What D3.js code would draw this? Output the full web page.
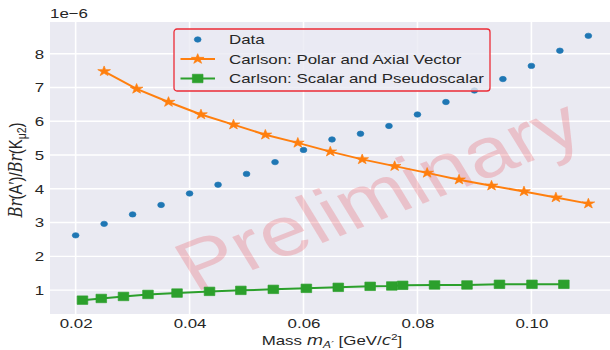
<!DOCTYPE html>
<html>
<head>
<meta charset="utf-8">
<script src="https://cdn.jsdelivr.net/npm/d3@7"></script>
<style>
  body { margin: 0; background: #fff; }
  svg { display: block; }
  text { font-family: "Liberation Sans", Arial, sans-serif; fill: #262626; }
</style>
</head>
<body>
<div id="chart"></div>
<script>
// measured ratio Br(A')/Br(K_mu2), units of 1e-6
var dataMass = [0.02, 0.025, 0.03, 0.035, 0.04, 0.045, 0.05, 0.055, 0.06, 0.065,
                0.07, 0.075, 0.08, 0.085, 0.09, 0.095, 0.10, 0.105, 0.11];
var dataRatio = [2.62, 2.96, 3.24, 3.52, 3.86, 4.12, 4.44, 4.79, 5.15, 5.46,
                 5.63, 5.86, 6.20, 6.57, 6.91, 7.25, 7.64, 8.09, 8.53];

// Carlson: polar and axial vector
var vectorMass = [0.025, 0.0307, 0.0363, 0.042, 0.0477, 0.0533, 0.059, 0.0647,
                  0.0703, 0.076, 0.0817, 0.0873, 0.093, 0.0987, 0.1043, 0.11];
var vectorRatio = [7.48, 6.96, 6.57, 6.20, 5.90, 5.60, 5.36, 5.10,
                   4.87, 4.67, 4.47, 4.27, 4.09, 3.92, 3.74, 3.56];

// Carlson: scalar and pseudoscalar
var scalarMass = [0.0212, 0.0245, 0.0284, 0.0327, 0.0378, 0.0435, 0.049, 0.0547, 0.0605,
                  0.0661, 0.0717, 0.0755, 0.0774, 0.083, 0.0887, 0.0944, 0.1001, 0.1057];
var scalarRatio = [0.70, 0.75, 0.81, 0.87, 0.91, 0.96, 0.99, 1.02, 1.05,
                   1.08, 1.11, 1.12, 1.14, 1.15, 1.15, 1.17, 1.17, 1.17];

var xTicks = [0.02, 0.04, 0.06, 0.08, 0.10];
var yTicks = [1, 2, 3, 4, 5, 6, 7, 8];
var legendLabels = ["Data", "Carlson: Polar and Axial Vector", "Carlson: Scalar and Pseudoscalar"];

var width = 610;
var height = 350;
// plot box (right edge runs past the svg and gets cut)
var pLeft = 50, pRight = 614, pTop = 22, pBottom = 314;
var sx = 1.25; // the figure is drawn a bit wider than tall
var fontSize = 13.5;

var blue = "#1f77b4", orange = "#ff7f0e", green = "#2ca02c";

var x = d3.scaleLinear().domain([0.0155, 0.1145]).range([pLeft, pRight]);
var y = d3.scaleLinear().domain([0.29, 8.94]).range([pBottom, pTop]);

var svg = d3.select("#chart")
    .append("svg")
    .attr("width", width)
    .attr("height", height);

// axes background
svg.append("rect")
    .attr("x", pLeft)
    .attr("y", pTop)
    .attr("width", pRight - pLeft)
    .attr("height", pBottom - pTop)
    .attr("fill", "#eaeaf2");

// grid
svg.append("g")
    .selectAll("line")
    .data(xTicks)
    .enter()
        .append("line")
        .attr("x1", function(d){ return x(d); })
        .attr("x2", function(d){ return x(d); })
        .attr("y1", pTop)
        .attr("y2", pBottom)
        .attr("stroke", "#fff")
        .attr("stroke-width", 1.6);

svg.append("g")
    .selectAll("line")
    .data(yTicks)
    .enter()
        .append("line")
        .attr("x1", pLeft)
        .attr("x2", pRight)
        .attr("y1", function(d){ return y(d); })
        .attr("y2", function(d){ return y(d); })
        .attr("stroke", "#fff")
        .attr("stroke-width", 1.3);

// watermark
svg.append("text")
    .attr("transform", "translate(378,194) scale(" + sx + ",1) rotate(-26)")
    .attr("text-anchor", "middle")
    .attr("dy", "0.35em")
    .style("font-size", "70px")
    .style("fill", "#e8303a")
    .style("fill-opacity", 0.22)
    .text("Preliminary");

// tick labels
var xAxis = svg.append("g")
    .attr("transform", "translate(0," + pBottom + ")")
    .call(d3.axisBottom(x).tickValues(xTicks).tickFormat(d3.format(".2f")).tickSize(0).tickPadding(4.4));
var yAxis = svg.append("g")
    .attr("transform", "translate(" + pLeft + ",0)")
    .call(d3.axisLeft(y).tickValues(yTicks).tickFormat(d3.format("d")).tickSize(0).tickPadding(4.8));

[xAxis, yAxis].forEach(function(ax){
    ax.select(".domain").remove();
    ax.selectAll("text")
        .attr("transform", "scale(" + sx + ",1)")
        .style("font-size", fontSize + "px")
        .style("fill", "#262626");
});

// offset text
svg.append("text")
    .attr("transform", "translate(" + pLeft + ",18) scale(" + sx + ",1)")
    .style("font-size", fontSize + "px")
    .text("1e\u22126");

// axis titles
var xTitle = svg.append("text")
    .attr("transform", "translate(" + ((pLeft + pRight) / 2) + ",345) scale(" + sx + ",1)")
    .attr("text-anchor", "middle")
    .style("font-size", fontSize + "px");
xTitle.append("tspan").text("Mass ");
xTitle.append("tspan").style("font-style", "italic").style("font-family", "DejaVu Sans").text("m");
xTitle.append("tspan").style("font-style", "italic").style("font-family", "DejaVu Sans")
    .style("font-size", "9.5px").attr("dy", 3).text("A\u2032");
xTitle.append("tspan").attr("dy", -3).text(" [GeV/");
xTitle.append("tspan").style("font-style", "italic").style("font-family", "DejaVu Sans").text("c");
xTitle.append("tspan").style("font-size", "9.5px").attr("dy", -5).text("2");
xTitle.append("tspan").attr("dy", 5).text("]");

var yTitle = svg.append("text")
    .attr("transform", "translate(22," + ((pTop + pBottom) / 2 + 2) + ") scale(" + sx + ",1) rotate(-90)")
    .attr("text-anchor", "middle")
    .style("font-size", "15px");
yTitle.append("tspan").style("font-style", "italic").style("font-family", "DejaVu Serif").text("Br");
yTitle.append("tspan").text("(A\u2032)/");
yTitle.append("tspan").style("font-style", "italic").style("font-family", "DejaVu Serif").text("Br");
yTitle.append("tspan").text("(K");
yTitle.append("tspan").style("font-size", "10.5px").attr("dy", 3).text("\u03bc2");
yTitle.append("tspan").attr("dy", -3).text(")");

// marker shapes
var star = d3.symbol().type(d3.symbolStar).size(32);
var square = d3.symbol().type(d3.symbolSquare).size(72);
var dot = d3.symbol().type(d3.symbolCircle).size(23);

function zip(xs, ys){
    return xs.map(function(d, i){ return [d, ys[i]]; });
}

var line = d3.line()
    .x(function(d){ return x(d[0]); })
    .y(function(d){ return y(d[1]); });

function drawSeries(pts, color, shape, withLine){
    var g = svg.append("g");
    if (withLine) {
        g.append("path")
            .attr("d", line(pts))
            .attr("fill", "none")
            .attr("stroke", color)
            .attr("stroke-width", 2);
    }
    g.selectAll("path.mark")
        .data(pts)
        .enter()
            .append("path")
            .attr("class", "mark")
            .attr("d", shape)
            .attr("transform", function(d){
                return "translate(" + x(d[0]) + "," + y(d[1]) + ") scale(" + sx + ",1)";
            })
            .attr("fill", color)
            .attr("stroke", color)
            .attr("stroke-width", 0.6);
}

drawSeries(zip(dataMass, dataRatio), blue, dot, false);
drawSeries(zip(vectorMass, vectorRatio), orange, star, true);
drawSeries(zip(scalarMass, scalarRatio), green, square, true);

// legend
var legend = svg.append("g").attr("transform", "translate(174,29)");
legend.append("rect")
    .attr("width", 316)
    .attr("height", 62)
    .attr("rx", 3)
    .attr("fill", "#eaeaf2")
    .attr("fill-opacity", 0.8)
    .attr("stroke", "#ec2b36")
    .attr("stroke-width", 1.3);

var legendColors = [blue, orange, green];
var legendShapes = [dot, star, square];
var rows = legend.selectAll("g.row")
    .data(legendLabels)
    .enter()
        .append("g")
        .attr("class", "row")
        .attr("transform", function(d, i){ return "translate(0," + (10.5 + i * 19.5) + ")"; });

rows.filter(function(d, i){ return i > 0; })
    .append("line")
    .attr("x1", 6.5)
    .attr("x2", 41)
    .attr("stroke", function(d, i){ return legendColors[i + 1]; })
    .attr("stroke-width", 2);

rows.append("path")
    .attr("d", function(d, i){ return legendShapes[i](); })
    .attr("transform", "translate(23.7,0) scale(" + sx + ",1)")
    .attr("fill", function(d, i){ return legendColors[i]; })
    .attr("stroke", function(d, i){ return legendColors[i]; })
    .attr("stroke-width", 0.6);

rows.append("text")
    .attr("transform", "translate(55,0) scale(" + sx + ",1)")
    .attr("dy", "0.36em")
    .style("font-size", fontSize + "px")
    .text(function(d){ return d; });
</script>
</body>
</html>
